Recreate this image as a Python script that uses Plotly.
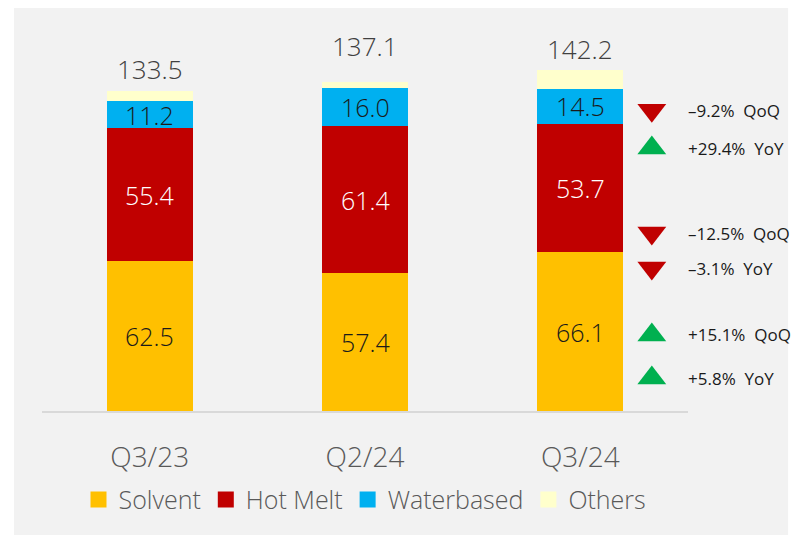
import plotly.graph_objects as go

categories = ["Q3/23", "Q2/24", "Q3/24"]
solvent = [62.5, 57.4, 66.1]
hot_melt = [55.4, 61.4, 53.7]
waterbased = [11.2, 16.0, 14.5]
totals = [133.5, 137.1, 142.2]
others = [round(t - s - h - w, 1) for t, s, h, w in zip(totals, solvent, hot_melt, waterbased)]

change_labels = ["\u20139.2%  QoQ", "+29.4%  YoY", "\u201312.5%  QoQ", "\u20133.1%  YoY", "+15.1%  QoQ", "+5.8%  YoY"]
change_up = [False, True, False, False, True, True]
change_y = [125.4, 109.6, 74.2, 59.6, 31.7, 13.75]

FONT = "Open Sans"
colors = {"Solvent": "#FFC000", "Hot Melt": "#C00000", "Waterbased": "#00B0F0", "Others": "#FFFFCC"}

fig = go.Figure()
series = [("Solvent", solvent), ("Hot Melt", hot_melt), ("Waterbased", waterbased), ("Others", others)]
for name, vals in series:
    fig.add_trace(go.Bar(x=categories, y=vals, name=name, marker_color=colors[name],
                         marker_line_width=0, hoverinfo="skip", showlegend=False))
# legend entries with larger square swatches
for name, _ in series:
    fig.add_trace(go.Scatter(x=[None], y=[None], name=name, mode="markers",
                             marker=dict(symbol="square", size=16, color=colors[name], line_width=0),
                             hoverinfo="skip", showlegend=True))

annotations = []
base = [0.0, 0.0, 0.0]
text_colors = {"Solvent": "#1a1a1a", "Hot Melt": "#ffffff", "Waterbased": "#1a1a1a"}
for name, vals in series:
    for i, v in enumerate(vals):
        if name in text_colors:
            annotations.append(dict(x=categories[i], y=base[i] + v / 2, xref="x", yref="y",
                                    text=f"{v:.1f}", showarrow=False,
                                    font=dict(family=FONT, size=25, weight=300, color=text_colors[name])))
        base[i] += v

total_shift = [22, 36, 21]
for i, t in enumerate(totals):
    annotations.append(dict(x=categories[i], y=t, xref="x", yref="y", text=f"{t:.1f}",
                            showarrow=False, yanchor="middle", yshift=total_shift[i],
                            font=dict(family=FONT, size=26, weight=300, color="#404040")))

for lab, y in zip(change_labels, change_y):
    annotations.append(dict(x=0.997, y=y, xref="paper", yref="y", text=lab, showarrow=False,
                            xanchor="left", yanchor="middle",
                            font=dict(family=FONT, size=17, color="#1a1a1a")))

fig.add_trace(go.Scatter(
    x=[0.944] * len(change_y), y=change_y, xaxis="x2", mode="markers",
    marker=dict(symbol=["triangle-up" if u else "triangle-down" for u in change_up],
                size=25, color=["#00B050" if u else "#C00000" for u in change_up],
                line_width=0),
    showlegend=False, hoverinfo="skip", cliponaxis=False))

fig.update_layout(
    width=810, height=535,
    margin=dict(l=34, r=130, t=0, b=132),
    paper_bgcolor="#ffffff", plot_bgcolor="rgba(0,0,0,0)",
    barmode="stack", bargap=0.6,
    font=dict(family=FONT),
    xaxis=dict(type="category", range=[-0.5, 2.5], showgrid=False, zeroline=False,
               showline=True, linecolor="#D9D9D9", linewidth=2, ticks="",
               tickfont=dict(family=FONT, size=28, weight=300, color="#595959"), ticklabelstandoff=20),
    xaxis2=dict(overlaying="x", range=[0, 1], visible=False, fixedrange=True),
    yaxis=dict(range=[0, 168], visible=False),
    legend=dict(orientation="h", x=0.5, xanchor="center", y=-0.22, yanchor="middle",
                font=dict(family=FONT, size=25, weight=300, color="#595959"), bgcolor="rgba(0,0,0,0)",
                itemclick=False, itemdoubleclick=False, traceorder="normal", itemwidth=30),
    annotations=annotations,
    shapes=[dict(type="rect", xref="paper", yref="paper", x0=-0.0433, x1=1.155,
                 y0=-0.33, y1=1.03, fillcolor="#F2F2F2", line_width=0, layer="below")],
    showlegend=True,
)

fig.write_html("out.html")
